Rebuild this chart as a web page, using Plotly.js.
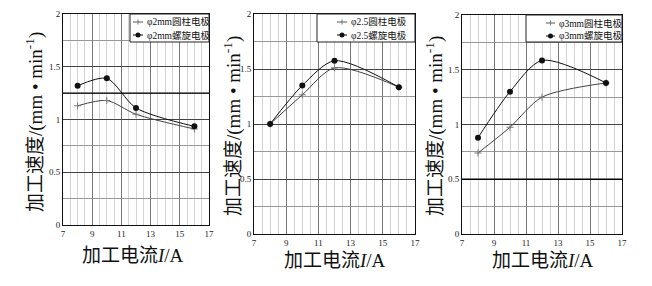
<!DOCTYPE html>
<html><head><meta charset="utf-8">
<script src="https://cdn.plot.ly/plotly-3.0.1.min.js"></script>
<style>html,body{margin:0;padding:0;background:#fff}</style>
</head><body><div id="chart" style="width:652px;height:286px"></div>
<script>
const currentA = [8, 10, 12, 16];
const p1Cylinder = [1.13, 1.18, 1.05, 0.91];
const p1Spiral   = [1.32, 1.39, 1.11, 0.935];
const p2Cylinder = [1.0, 1.265, 1.51, 1.335];
const p2Spiral   = [1.0, 1.35, 1.575, 1.335];
const p3Cylinder = [0.74, 0.975, 1.25, 1.38];
const p3Spiral   = [0.88, 1.30, 1.585, 1.38];
const names1 = ['φ2mm圆柱电极', 'φ2mm螺旋电极'];
const names2 = ['φ2.5圆柱电极', 'φ2.5螺旋电极'];
const names3 = ['φ3mm圆柱电极', 'φ3mm螺旋电极'];
const yTitle = '加工速度/(mm • min<sup>-1</sup>)';
const xTitle = '加工电流<i>I</i>/A';

const W = 652, H = 286;
const serif = '"Liberation Serif", "Noto Sans CJK SC", serif';
const px = v => v / W, py = v => 1 - v / H;

function cyl(y, name, i) {
  return {x: currentA, y: y, name: name, type: 'scatter', mode: 'lines+markers', showlegend: false,
    xaxis: i === 1 ? 'x' : 'x' + i, yaxis: i === 1 ? 'y' : 'y' + i,
    line: {color: '#444', width: 1, shape: 'spline', smoothing: 0.8},
    marker: {symbol: 'cross-thin', size: 5, color: '#777', line: {color: '#777', width: 1}}};
}
function spi(y, name, i) {
  return {x: currentA, y: y, name: name, type: 'scatter', mode: 'lines+markers', showlegend: false,
    xaxis: i === 1 ? 'x' : 'x' + i, yaxis: i === 1 ? 'y' : 'y' + i,
    line: {color: '#111', width: 1, shape: 'spline', smoothing: 0.8},
    marker: {symbol: 'circle', size: 6, color: '#111'}};
}
const data = [
  cyl(p1Cylinder, names1[0], 1), spi(p1Spiral, names1[1], 1),
  cyl(p2Cylinder, names2[0], 2), spi(p2Spiral, names2[1], 2),
  cyl(p3Cylinder, names3[0], 3), spi(p3Spiral, names3[1], 3)
];

function xa(l, r, anchor) {
  return {domain: [l / W, r / W], range: [7, 17], dtick: 2, tick0: 7, anchor: anchor,
    showgrid: true, gridcolor: '#777', gridwidth: 1,
    minor: {dtick: 0.5, showgrid: true, gridcolor: '#d4d4d4', gridwidth: 1},
    showline: true, linecolor: '#111', linewidth: 1, mirror: true, ticks: '', zeroline: false,
    tickfont: {family: serif, size: 9, color: '#222'}};
}
function ya(top, bot, anchor) {
  return {domain: [1 - bot / H, 1 - top / H], range: [0, 2], dtick: 0.5, anchor: anchor,
    showgrid: true, gridcolor: '#444', gridwidth: 1,
    minor: {dtick: 0.25, showgrid: true, gridcolor: '#999', gridwidth: 1},
    showline: true, linecolor: '#111', linewidth: 1, mirror: true, ticks: '', zeroline: false,
    tickfont: {family: serif, size: 9, color: '#222'}};
}
function ann(text, x, y, angle) {
  return {text: text, x: px(x), y: py(y), xref: 'paper', yref: 'paper', showarrow: false,
    textangle: angle, font: {family: serif, size: 19, color: '#111'}, xanchor: 'center', yanchor: 'middle'};
}

const shapes = [
  {type: 'line', xref: 'x domain', yref: 'y', x0: 0, x1: 1, y0: 1.25, y1: 1.25, line: {color: '#000', width: 1.3}, layer: 'above'},
  {type: 'line', xref: 'x3 domain', yref: 'y3', x0: 0, x1: 1, y0: 0.5, y1: 0.5, line: {color: '#000', width: 1.3}, layer: 'above'}
];
const annotations = [
  ann(yTitle, 34, 122, -90), ann(xTitle, 133, 255, 0),
  ann(yTitle, 232, 126, -90), ann(xTitle, 335, 260, 0),
  ann(yTitle, 434, 126, -90), ann(xTitle, 543, 260, 0)
];
// custom legend boxes
function legend(boxL, boxR, boxT, boxB, lineL, lineR, textL, names) {
  shapes.push({type: 'rect', xref: 'paper', yref: 'paper', x0: px(boxL), x1: px(boxR), y0: py(boxB), y1: py(boxT),
    fillcolor: '#fff', line: {color: '#222', width: 1}, layer: 'above'});
  const rows = [boxT + 8, boxT + 21];
  const mid = (lineL + lineR) / 2;
  rows.forEach((ry, k) => {
    shapes.push({type: 'line', xref: 'paper', yref: 'paper', x0: px(lineL), x1: px(lineR), y0: py(ry), y1: py(ry),
      line: {color: k === 0 ? '#555' : '#111', width: 1}, layer: 'above'});
    if (k === 0) {
      shapes.push({type: 'line', xref: 'paper', yref: 'paper', x0: px(mid), x1: px(mid), y0: py(ry - 2.5), y1: py(ry + 2.5),
        line: {color: '#777', width: 1}, layer: 'above'});
    } else {
      shapes.push({type: 'circle', xref: 'paper', yref: 'paper', x0: px(mid - 2.5), x1: px(mid + 2.5), y0: py(ry + 2.5), y1: py(ry - 2.5),
        fillcolor: '#111', line: {color: '#111', width: 0}, layer: 'above'});
    }
    annotations.push({text: names[k], x: px(textL), y: py(ry), xref: 'paper', yref: 'paper', showarrow: false,
      xanchor: 'left', yanchor: 'middle', font: {family: serif, size: 9.5, color: '#111'}});
  });
}
legend(130, 209, 14, 42, 133, 143, 145, names1);
legend(317, 415, 14, 42, 337, 347, 349, names2);
legend(526, 622, 15, 42, 546, 555, 557, names3);

const layout = {
  width: W, height: H, margin: {l: 0, r: 0, t: 0, b: 0},
  paper_bgcolor: '#fff', plot_bgcolor: '#fff', showlegend: false,
  xaxis: xa(63, 209, 'y'), yaxis: ya(14, 225, 'x'),
  xaxis2: xa(254, 415, 'y2'), yaxis2: ya(14, 234, 'x2'),
  xaxis3: xa(462, 622, 'y3'), yaxis3: ya(15, 234, 'x3'),
  shapes: shapes, annotations: annotations
};
Plotly.newPlot('chart', data, layout, {staticPlot: true, displayModeBar: false});
</script></body></html>
